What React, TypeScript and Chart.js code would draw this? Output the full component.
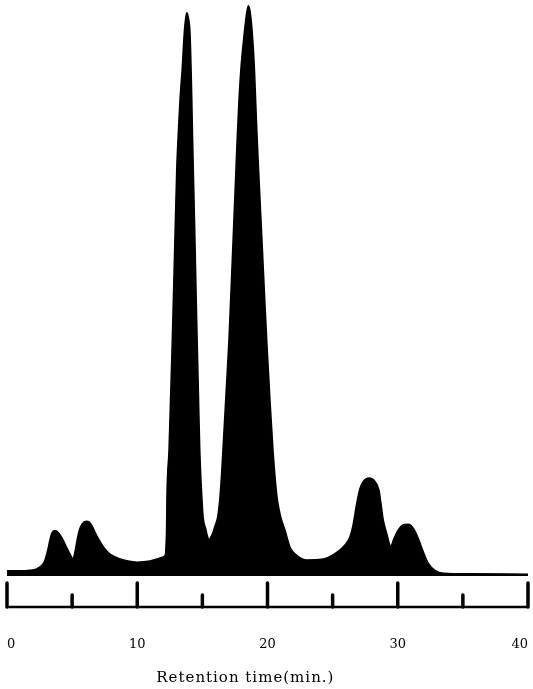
import React, { useEffect, useRef } from "react";
import { Chart, registerables } from "chart.js";

Chart.register(...registerables);

// Retention time (min) of each sampled point of the trace
const retentionTime = [
  0.0, 1.0, 1.77, 2.23, 2.53, 2.76, 2.92, 3.15, 3.3, 3.45, 3.69, 3.92, 4.22, 4.53, 4.84, 5.07,
  5.22, 5.37, 5.53, 5.76, 6.07, 6.3, 6.53, 6.76, 7.06, 7.45, 7.91, 8.52, 9.29, 9.98, 10.98,
  11.59, 11.98, 12.17, 12.21, 12.25, 12.28, 12.44, 12.69, 12.86, 13.03, 13.15, 13.28, 13.46,
  13.61, 13.7, 13.8, 13.92, 14.05, 14.13, 14.19, 14.24, 14.3, 14.42, 14.53, 14.6, 14.7, 14.8,
  14.96, 15.06, 15.28, 15.4, 15.53, 15.66, 15.82, 15.97, 16.18, 16.35, 16.48, 16.58, 16.81,
  17.04, 17.31, 17.58, 17.69, 17.81, 17.97, 18.22, 18.39, 18.53, 18.67, 18.83, 18.99, 19.09,
  19.19, 19.31, 19.55, 19.79, 19.94, 20.17, 20.42, 20.73, 21.0, 21.34, 21.73, 22.24, 23.01,
  24.16, 25.18, 25.95, 26.33, 26.59, 26.85, 27.1, 27.36, 27.79, 28.25, 28.56, 28.71, 28.89,
  29.15, 29.46, 29.71, 30.04, 30.43, 30.81, 31.19, 31.58, 31.96, 32.35, 32.86, 33.5, 35.55,
  40.0,
];

// Detector response (relative units) at each sampled point
const signal = [
  0.9, 0.9, 1.0, 1.2, 1.6, 2.1, 2.8, 4.7, 6.3, 7.5, 7.9, 7.6, 6.6, 5.2, 3.8, 3.0,
  4.2, 6.1, 7.8, 9.0, 9.5, 9.4, 8.7, 7.6, 6.3, 4.9, 3.8, 3.1, 2.6, 2.4, 2.6,
  3.0, 3.3, 3.8, 5.4, 8.0, 13.7, 21.9, 41.0, 55.7, 70.5, 76.9, 82.6, 88.4,
  94.3, 96.5, 97.8, 97.0, 94.3, 88.4, 82.6, 76.9, 71.0, 59.5, 47.9, 41.0, 31.4, 21.9,
  13.7, 10.2, 8.0, 6.8, 6.3, 6.8, 7.6, 8.7, 10.3, 13.7, 17.9, 21.9, 31.4,
  41.0, 55.7, 70.8, 76.9, 82.6, 88.4, 94.3, 97.6, 99.0, 97.9, 94.3, 88.4, 82.6,
  76.9, 70.8, 59.5, 47.9, 41.0, 31.4, 21.9, 13.7, 10.4, 8.0, 5.0, 3.6, 2.8,
  2.9, 3.9, 5.4, 6.8, 9.1, 12.6, 15.2, 16.4, 17.0, 16.4, 14.9, 12.6, 9.7,
  7.4, 5.2, 6.5, 8.0, 8.9, 9.0, 8.3, 6.5, 4.2, 2.2, 1.0, 0.5, 0.4,
  0.3,
];

const xTickValues = [0, 10, 20, 30, 40];
const rulerMajor = [0, 10, 20, 30, 40];
const rulerMinor = [5, 15, 25, 35];
const axisTitle = "Retention time(min.)";
const axisTitleAt = 18.3; // minutes, where the title is centred

const X_MIN = 0;
const X_MAX = 40;
const Y_MIN = -5.38;
const Y_MAX = 100;

const rulerPlugin = {
  id: "ruler",
  afterDraw(chart: any) {
    const { ctx, chartArea, scales } = chart;
    const xs = scales.x;
    const y0 = chartArea.bottom;
    ctx.save();
    ctx.strokeStyle = "#000";
    ctx.fillStyle = "#000";
    ctx.lineCap = "round";
    ctx.lineWidth = 2.5;
    ctx.beginPath();
    ctx.moveTo(xs.getPixelForValue(X_MIN), y0);
    ctx.lineTo(xs.getPixelForValue(X_MAX), y0);
    ctx.stroke();
    ctx.lineWidth = 3.5;
    ctx.beginPath();
    rulerMajor.forEach((v) => {
      const px = xs.getPixelForValue(v);
      ctx.moveTo(px, y0);
      ctx.lineTo(px, y0 - 24);
    });
    rulerMinor.forEach((v) => {
      const px = xs.getPixelForValue(v);
      ctx.moveTo(px, y0);
      ctx.lineTo(px, y0 - 12);
    });
    ctx.stroke();
    ctx.font = "15px 'DejaVu Serif'";
    (ctx as any).letterSpacing = "1px";
    ctx.textAlign = "center";
    ctx.textBaseline = "middle";
    ctx.fillText(axisTitle, xs.getPixelForValue(axisTitleAt), chart.height - 11);
    ctx.restore();
  },
};

export default function App() {
  const canvasRef = useRef<HTMLCanvasElement | null>(null);

  useEffect(() => {
    const canvas = canvasRef.current;
    if (!canvas) return;
    const points = retentionTime.map((t, i) => ({ x: t, y: signal[i] }));
    const chart = new Chart(canvas, {
      type: "line",
      data: {
        datasets: [
          {
            data: points,
            fill: "origin",
            backgroundColor: "#000",
            borderColor: "#000",
            borderWidth: 1.5,
            pointRadius: 0,
            cubicInterpolationMode: "monotone",
          },
        ],
      },
      options: {
        animation: false,
        responsive: false,
        devicePixelRatio: 1,
        layout: { padding: { left: 7, right: 5, top: 0, bottom: 36.4 } },
        plugins: {
          legend: { display: false },
          tooltip: { enabled: false },
        },
        scales: {
          x: {
            type: "linear",
            min: X_MIN,
            max: X_MAX,
            afterBuildTicks: (scale: any) => {
              scale.ticks = xTickValues.map((v) => ({ value: v }));
            },
            ticks: {
              align: "inner",
              padding: 0,
              color: "#000",
              font: { family: "'DejaVu Serif'", size: 13 },
            },
            grid: {
              display: true,
              drawOnChartArea: false,
              drawTicks: true,
              tickLength: 30,
              color: "rgba(0,0,0,0)",
            },
            border: { display: false },
          },
          y: {
            type: "linear",
            min: Y_MIN,
            max: Y_MAX,
            display: false,
          },
        },
      },
      plugins: [rulerPlugin],
    } as any);
    return () => chart.destroy();
  }, []);

  return (
    <div style={{ position: "absolute", left: 0, top: 0, width: 533, height: 689, background: "#fff" }}>
      <canvas ref={canvasRef} width={533} height={689} style={{ display: "block" }} />
    </div>
  );
}
